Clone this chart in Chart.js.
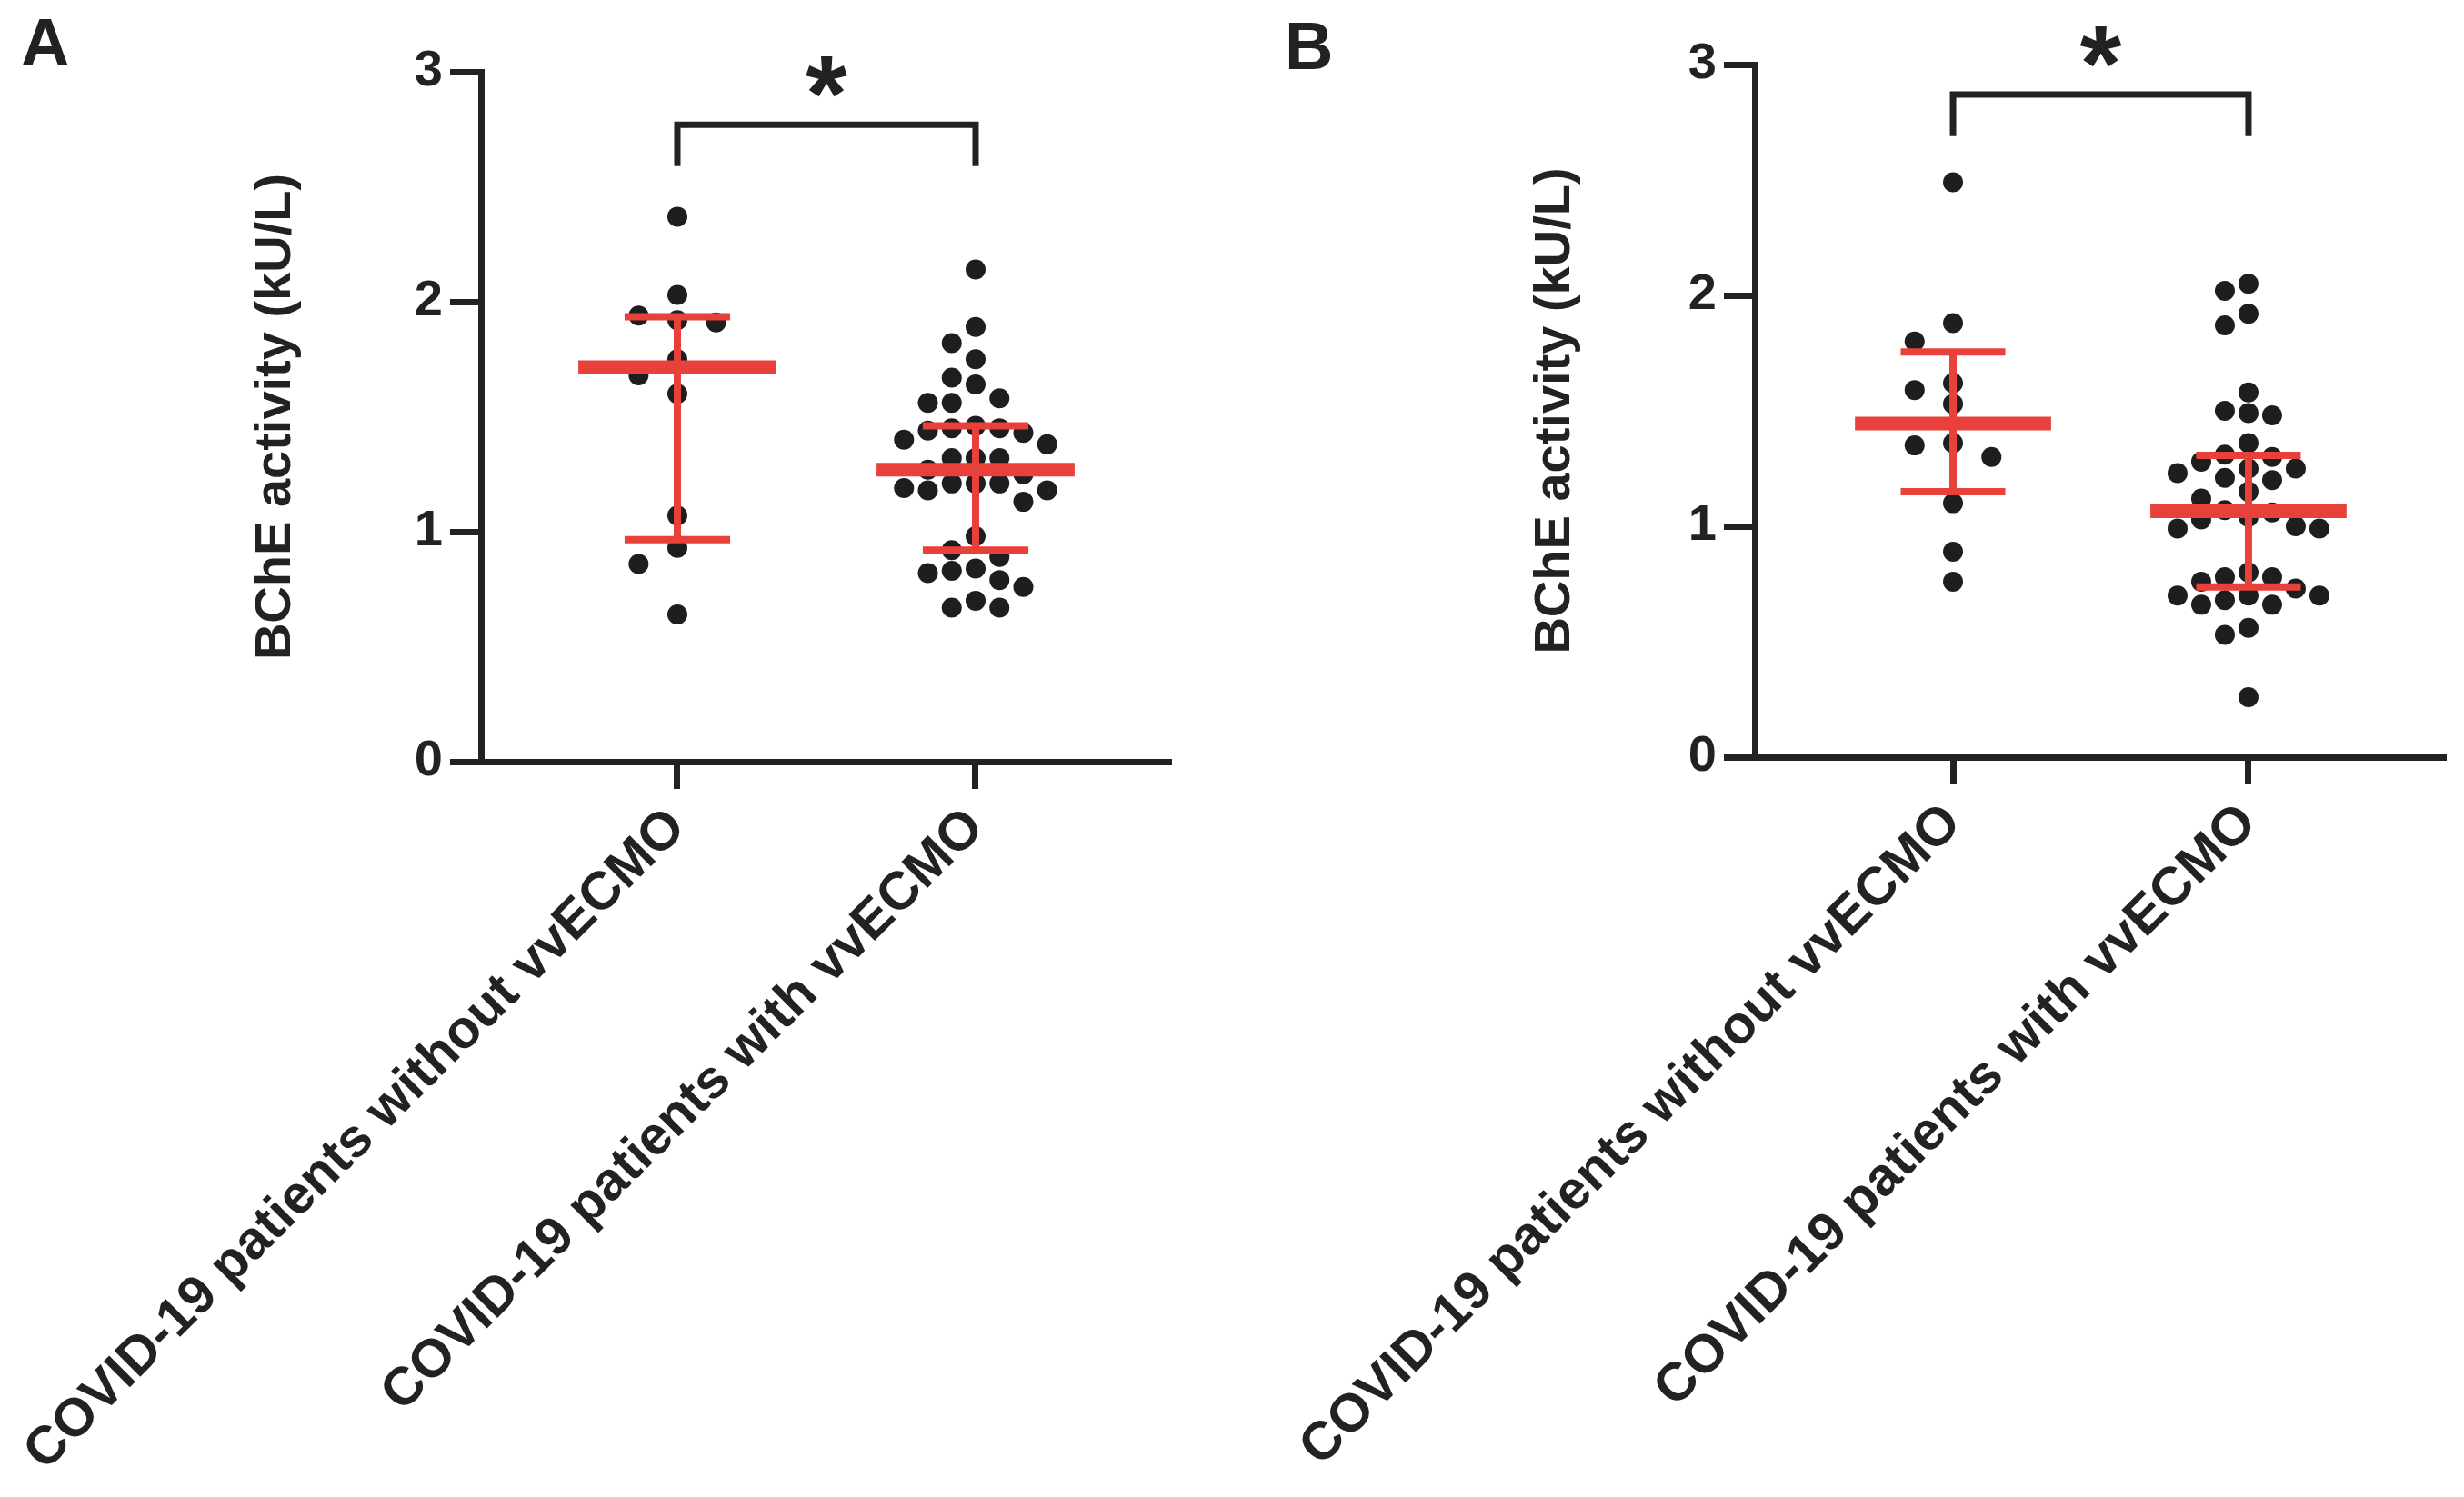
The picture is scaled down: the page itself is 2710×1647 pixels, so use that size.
<!DOCTYPE html>
<html>
<head>
<meta charset="utf-8">
<title>BChE activity</title>
<script src="https://cdn.jsdelivr.net/npm/chart.js@4.4.1/dist/chart.umd.min.js"></script>
<style>
  html, body { margin: 0; padding: 0; background: #fff; width: 2710px; height: 1647px; overflow: hidden; }
  .panel { position: absolute; top: 0; width: 1355px; height: 1647px; }
  .tag { position: absolute; font: bold 74px "Liberation Sans", Arial, sans-serif; color: #222; line-height: 1; }
</style>
</head>
<body>
<div class="panel" style="left:0"><canvas id="chartA" width="1355" height="1647"></canvas></div>
<div class="panel" style="left:1355px"><canvas id="chartB" width="1355" height="1647"></canvas></div>
<div class="tag" style="left:23px;top:10px">A</div>
<div class="tag" style="left:1413px;top:14px">B</div>

<script>
// Data (kU/L)
const groupLabels = ['COVID-19 patients without vvECMO', 'COVID-19 patients with vvECMO'];
const yTickValues = [0, 1, 2, 3];

const panelAWithout = [2.37, 2.03, 1.94, 1.92, 1.91, 1.75, 1.68, 1.60, 1.07, 0.93, 0.86, 0.64];
const panelAWith = [
  2.14, 1.89, 1.82, 1.75, 1.67, 1.64, 1.58, 1.56, 1.56, 1.46,
  1.45, 1.45, 1.44, 1.43, 1.40, 1.38, 1.32, 1.32, 1.32, 1.27,
  1.25, 1.21, 1.21, 1.21, 1.19, 1.18, 1.18, 1.13, 0.98, 0.92,
  0.89, 0.84, 0.83, 0.82, 0.79, 0.76, 0.70, 0.67, 0.67
];

const panelBWithout = [2.49, 1.88, 1.80, 1.62, 1.59, 1.53, 1.36, 1.35, 1.30, 1.10, 0.89, 0.76];
const panelBWith = [
  2.05, 2.02, 1.92, 1.87, 1.58, 1.50, 1.49, 1.48, 1.36, 1.31,
  1.30, 1.28, 1.25, 1.25, 1.23, 1.21, 1.20, 1.15, 1.12, 1.07,
  1.06, 1.04, 1.03, 1.00, 0.99, 0.99, 0.80, 0.78, 0.78, 0.76,
  0.73, 0.70, 0.70, 0.70, 0.68, 0.66, 0.66, 0.56, 0.53, 0.26
];

// Styling
const FONT = '"Liberation Sans", Arial, sans-serif';
const INK = '#222222';
const DOT = '#1e1e1e';
const RED = '#e8413b';

// Median + interquartile range (n+1 percentile method, as GraphPad does)
function quantile(sorted, p) {
  const pos = (sorted.length + 1) * p;
  const lo = Math.floor(pos);
  if (lo < 1) return sorted[0];
  if (lo >= sorted.length) return sorted[sorted.length - 1];
  return sorted[lo - 1] + (pos - lo) * (sorted[lo] - sorted[lo - 1]);
}

function summary(values) {
  const s = [...values].sort((a, b) => a - b);
  return { q1: quantile(s, 0.25), median: quantile(s, 0.5), q3: quantile(s, 0.75) };
}

// Column scatter: each point takes the column nearest the centre
// where it does not overlap a point already placed
function swarm(values, center, gap, step) {
  const sorted = [...values].sort((a, b) => b - a);
  const columns = {};
  const points = [];
  sorted.forEach(v => {
    for (let k = 0; k < 40; k++) {
      const col = k === 0 ? 0 : (k % 2 ? -Math.ceil(k / 2) : Math.ceil(k / 2));
      const taken = columns[col] || [];
      if (taken.every(u => Math.abs(u - v) >= gap)) {
        taken.push(v);
        columns[col] = taken;
        points.push({ x: center + col * step, y: v });
        break;
      }
    }
  });
  return points;
}

function lineSet(points, width) {
  return {
    data: points,
    showLine: true,
    borderColor: RED,
    borderWidth: width,
    borderCapStyle: 'butt',
    pointRadius: 0,
    fill: false,
    order: 0
  };
}

function groupDatasets(values, center) {
  const st = summary(values);
  const step = values.length < 20 ? 0.13 : 0.08;
  return [
    lineSet([{ x: center - 0.332, y: st.median }, { x: center + 0.332, y: st.median }], 15),
    lineSet([{ x: center - 0.177, y: st.q3 }, { x: center + 0.177, y: st.q3 }], 8),
    lineSet([{ x: center - 0.177, y: st.q1 }, { x: center + 0.177, y: st.q1 }], 8),
    lineSet([{ x: center, y: st.q1 }, { x: center, y: st.q3 }], 8),
    {
      data: swarm(values, center, 0.09, step),
      showLine: false,
      pointRadius: 11,
      pointBackgroundColor: DOT,
      pointBorderWidth: 0,
      order: 1
    }
  ];
}

// Significance bracket with asterisk
const bracketPlugin = {
  id: 'sigBracket',
  afterDatasetsDraw(chart, args, opts) {
    const { ctx, scales: { x, y } } = chart;
    const x1 = x.getPixelForValue(1);
    const x2 = x.getPixelForValue(2);
    const yTop = y.getPixelForValue(opts.top);
    const yLeg = y.getPixelForValue(opts.leg);
    ctx.save();
    ctx.strokeStyle = INK;
    ctx.lineWidth = 7;
    ctx.lineJoin = 'miter';
    ctx.beginPath();
    ctx.moveTo(x1, yLeg);
    ctx.lineTo(x1, yTop);
    ctx.lineTo(x2, yTop);
    ctx.lineTo(x2, yLeg);
    ctx.stroke();

    ctx.fillStyle = INK;
    ctx.font = 'bold 118px ' + FONT;
    ctx.textAlign = 'center';
    ctx.textBaseline = 'alphabetic';
    const m = ctx.measureText('*');
    const cy = yTop - 53;
    ctx.fillText('*', (x1 + x2) / 2, cy + (m.actualBoundingBoxAscent - m.actualBoundingBoxDescent) / 2);
    ctx.restore();
  }
};

function makePanel(canvasId, without, withEcmo, layout) {
  const ctx = document.getElementById(canvasId);
  return new Chart(ctx, {
    type: 'scatter',
    data: {
      datasets: [...groupDatasets(without, 1), ...groupDatasets(withEcmo, 2)]
    },
    plugins: [bracketPlugin],
    options: {
      responsive: false,
      animation: false,
      devicePixelRatio: 1,
      layout: { padding: { top: layout.top, right: layout.right, left: 0, bottom: 0 } },
      scales: {
        x: {
          type: 'linear',
          min: layout.xMin,
          max: layout.xMax,
          afterBuildTicks: scale => { scale.ticks = groupLabels.map((_, i) => ({ value: i + 1 })); },
          afterFit: scale => {
            scale.height = layout.xHeight;
            scale.paddingLeft = 0;
            scale.paddingRight = 0;
          },
          ticks: {
            autoSkip: false,
            minRotation: 45,
            maxRotation: 45,
            padding: 8,
            color: INK,
            font: { family: FONT, size: 59, weight: 'bold' },
            callback: value => groupLabels[value - 1] || ''
          },
          grid: { drawOnChartArea: false, tickLength: 30, tickWidth: 7, tickColor: INK },
          border: { color: INK, width: 7 }
        },
        y: {
          min: 0,
          max: 3,
          afterBuildTicks: scale => { scale.ticks = yTickValues.map(v => ({ value: v })); },
          afterFit: scale => { scale.width = layout.yWidth; },
          ticks: {
            padding: 8,
            color: INK,
            font: { family: FONT, size: 56, weight: 'bold' }
          },
          grid: { drawOnChartArea: false, tickLength: 34, tickWidth: 7, tickColor: INK },
          border: { color: INK, width: 7 },
          title: {
            display: true,
            text: 'BChE activity (kU/L)',
            color: INK,
            font: { family: FONT, size: 56, weight: 'bold' },
            padding: { top: layout.titlePad, bottom: 0 }
          }
        }
      },
      plugins: {
        legend: { display: false },
        tooltip: { enabled: false },
        sigBracket: layout.bracket
      }
    }
  });
}

makePanel('chartA', panelAWithout, panelAWith, {
  top: 79, right: 67, yWidth: 529, xHeight: 809,
  xMin: 0.3415, xMax: 2.6555, titlePad: 270,
  bracket: { top: 2.77, leg: 2.59 }
});

makePanel('chartB', panelBWithout, panelBWith, {
  top: 71, right: 20, yWidth: 575, xHeight: 814,
  xMin: 0.329, xMax: 2.668, titlePad: 322,
  bracket: { top: 2.87, leg: 2.69 }
});
</script>
</body>
</html>
